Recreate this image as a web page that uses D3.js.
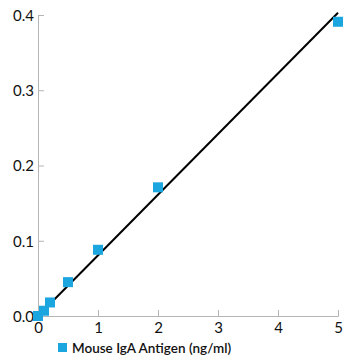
<!DOCTYPE html>
<html><head><meta charset="utf-8">
<script src="https://cdn.jsdelivr.net/npm/d3@7"></script>
<style>body{margin:0;background:#fff}svg{display:block}text{font-family:Lato,"Open Sans",sans-serif}</style>
</head><body>
<svg id="c" width="360" height="360"></svg>
<script>
const xValues = [0, 0.1, 0.2, 0.5, 1, 2, 5];
const yValues = [0.0, 0.007, 0.018, 0.045, 0.088, 0.171, 0.391];
const fitX = [0, 5];
const fitY = [0.0, 0.403];
const xTicks = [0, 1, 2, 3, 4, 5];
const yTicks = [0.0, 0.1, 0.2, 0.3, 0.4];
const seriesName = "Mouse IgA Antigen (ng/ml)";

const svg = d3.select("#c");
const x = d3.scaleLinear().domain([0, 5]).range([38, 338]);
const y = d3.scaleLinear().domain([0, 0.4]).range([316, 15]);
const axisColor = "#b5b5b5";
const ptColor = "#1ba6e0";

const gx = svg.append("g").attr("transform", "translate(0,316)")
  .call(d3.axisBottom(x).tickValues(xTicks).tickSize(-6).tickPadding(6).tickFormat(d3.format("d")));
const gy = svg.append("g").attr("transform", "translate(38,0)")
  .call(d3.axisLeft(y).tickValues(yTicks).tickSize(-6).tickPadding(4).tickFormat(d3.format(".1f")));
[gx, gy].forEach(g => {
  g.select(".domain").attr("stroke", axisColor);
  g.selectAll(".tick line").attr("stroke", axisColor);
  g.selectAll(".tick text").attr("fill", "#111").attr("font-size", 15);
});
gy.selectAll(".tick text").attr("dy", "0.35em");

svg.append("line")
  .attr("x1", x(fitX[0])).attr("y1", y(fitY[0]))
  .attr("x2", x(fitX[1])).attr("y2", y(fitY[1]))
  .attr("stroke", "#000").attr("stroke-width", 2);

const s = 10;
svg.selectAll("rect.pt").data(xValues).enter().append("rect")
  .attr("class", "pt")
  .attr("x", (d) => x(d) - s/2)
  .attr("y", (d, i) => y(yValues[i]) - s/2)
  .attr("width", s).attr("height", s).attr("fill", ptColor);

const lg = svg.append("g").attr("transform", "translate(58,343)");
lg.append("rect").attr("width", 9).attr("height", 9).attr("fill", ptColor);
lg.append("text").attr("x", 14).attr("y", 9.5).attr("font-size", 13.5).attr("font-weight", 600)
  .attr("fill", "#111").text(seriesName);
</script>
</body></html>
